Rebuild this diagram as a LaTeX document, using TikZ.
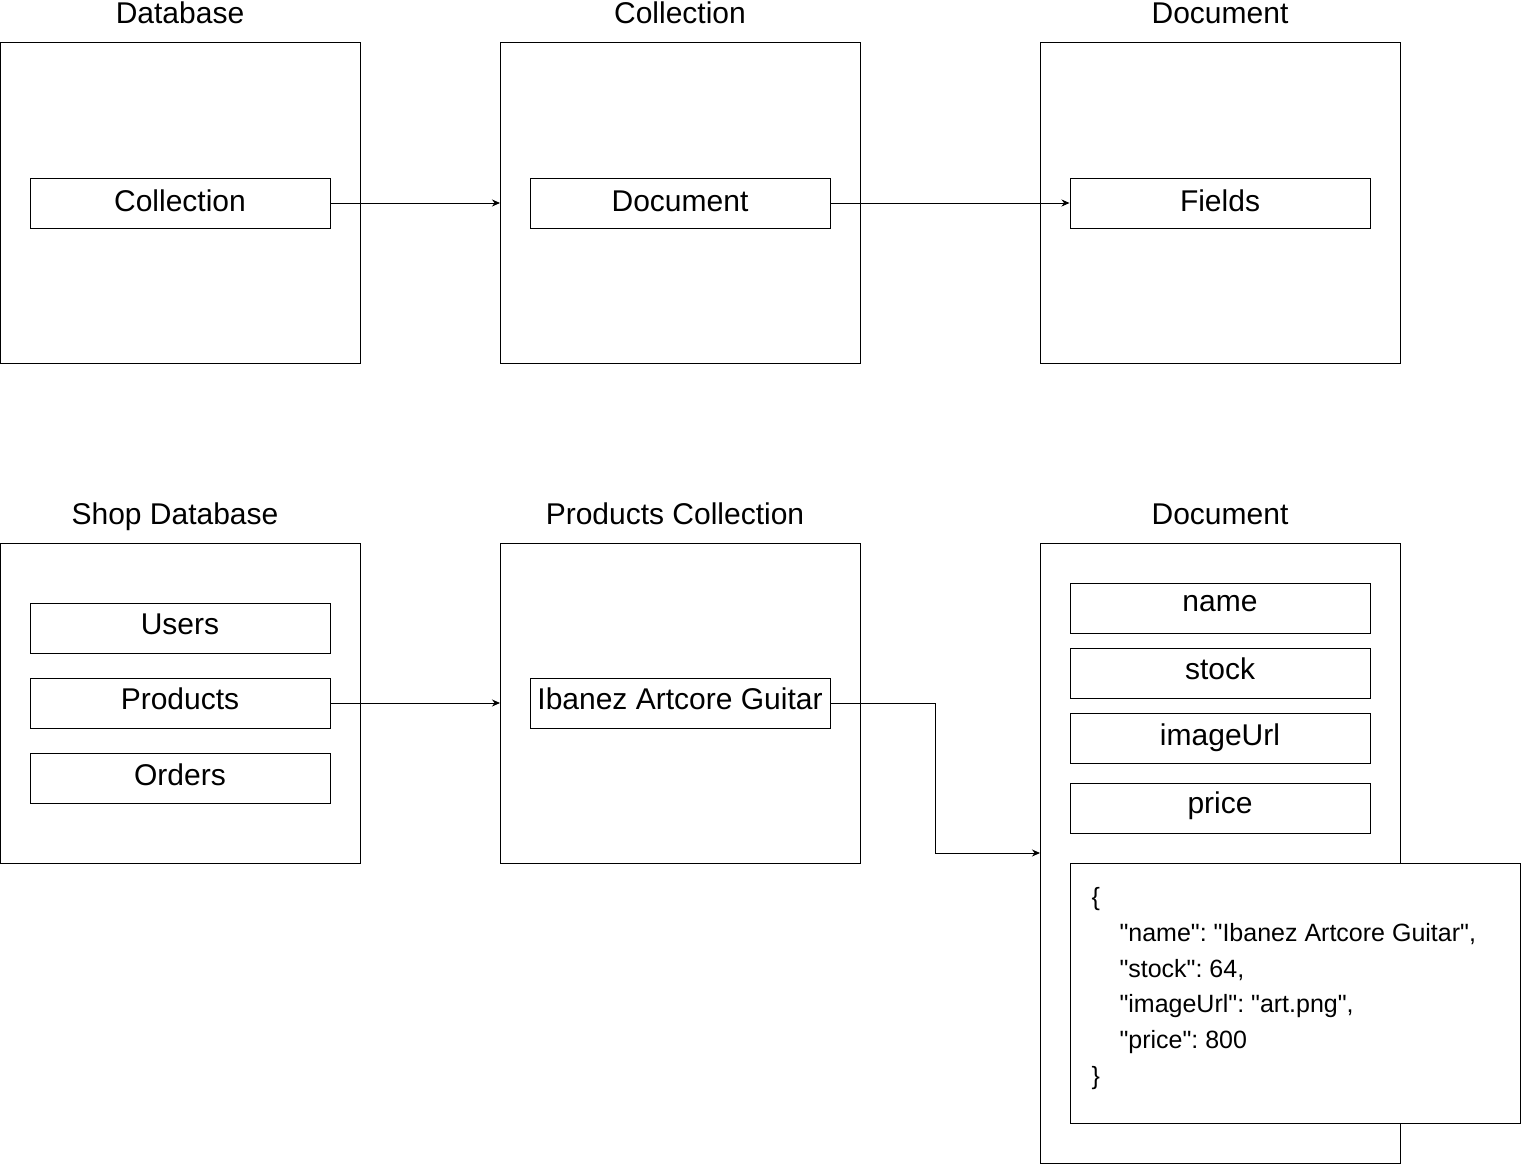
\documentclass[tikz,border=0pt]{standalone}
\usepackage{fontspec}
\setmainfont{Liberation Sans}
\newfontfamily\jsonfont{Liberation Sans}[Ligatures=TeXOff]
\usetikzlibrary{arrows.meta}
\frenchspacing
\begin{document}
\begin{tikzpicture}[x=1pt,y=-1pt,line width=1pt,
  bigbox/.style={draw,fill=white},
  itembox/.style={draw,fill=white,minimum width=300pt,minimum height=50pt,inner sep=0pt},
  lbl/.style={font=\fontsize{30}{34}\selectfont,inner sep=0pt,anchor=base},
  jl/.style={font=\jsonfont\fontsize{25}{30}\selectfont,inner sep=0pt,anchor=base west},
  conn/.style={-{Stealth[length=8pt,width=7pt]}}]
\useasboundingbox (0,0) rectangle (1521,1164);
% top row
\draw[bigbox] (0,43) rectangle (360,363);
\draw[bigbox] (500,43) rectangle (860,363);
\draw[bigbox] (1040,43) rectangle (1400,363);
\node[lbl] (t1) at (180,24) {Database};
\node[lbl] (t2) at (680,24) {Collection};
\node[lbl] (t3) at (1220,24) {Document};
\node[itembox] (c1) at (180,203) {};
\node[lbl] (c1l) at (180,211) {Collection};
\node[itembox] (d1) at (680,203) {};
\node[lbl] (d1l) at (680,211) {Document};
\node[itembox] (f1) at (1220,203) {};
\node[lbl] (f1l) at (1220,211) {Fields};
\coordinate (col2w) at (500,203);
\draw[conn] (c1.east) -- (col2w);
\draw[conn] (d1.east) -- (f1.west);
% bottom row
\draw[bigbox] (0,543) rectangle (360,863);
\draw[bigbox] (500,543) rectangle (860,863);
\draw[bigbox] (1040,543) rectangle (1400,1163);
\node[lbl] (t4) at (175,524) {Shop Database};
\node[lbl] (t5) at (675,524) {Products Collection};
\node[lbl] (t6) at (1220,524) {Document};
\node[itembox] (users) at (180,628) {};
\node[lbl] (usersl) at (180,634) {Users};
\node[itembox] (products) at (180,703) {};
\node[lbl] (productsl) at (180,709) {Products};
\node[itembox] (orders) at (180,778) {};
\node[lbl] (ordersl) at (180,785) {Orders};
\node[itembox] (ibanez) at (680,703) {};
\node[lbl] (ibanezl) at (680,709) {Ibanez Artcore Guitar};
\node[itembox] (fname) at (1220,608) {};
\node[lbl] (fnamel) at (1220,611) {name};
\node[itembox] (fstock) at (1220,673) {};
\node[lbl] (fstockl) at (1220,679) {stock};
\node[itembox] (fimg) at (1220,738) {};
\node[lbl] (fimgl) at (1220,745) {imageUrl};
\node[itembox] (fprice) at (1220,808) {};
\node[lbl] (fpricel) at (1220,813) {price};
\coordinate (col5w) at (500,703);
\coordinate (doc6w) at (1040,853);
\coordinate (bend1) at (935,703);
\coordinate (bend2) at (935,853);
\draw[conn] (products.east) -- (col5w);
\draw[conn] (ibanez.east) -- (bend1) -- (bend2) -- (doc6w);
% JSON box
\draw[fill=white] (1070,863) rectangle (1520,1123);
\node[jl] (j0) at (1091,905) {\{};
\node[jl] (j1) at (1119,941) {"name": "Ibanez Artcore Guitar",};
\node[jl] (j2) at (1119,977) {"stock": 64,};
\node[jl] (j3) at (1119,1012.5) {"imageUrl": "art.png",};
\node[jl] (j4) at (1119,1048) {"price": 800};
\node[jl] (j5) at (1091,1084) {\}};
\end{tikzpicture}
\end{document}
